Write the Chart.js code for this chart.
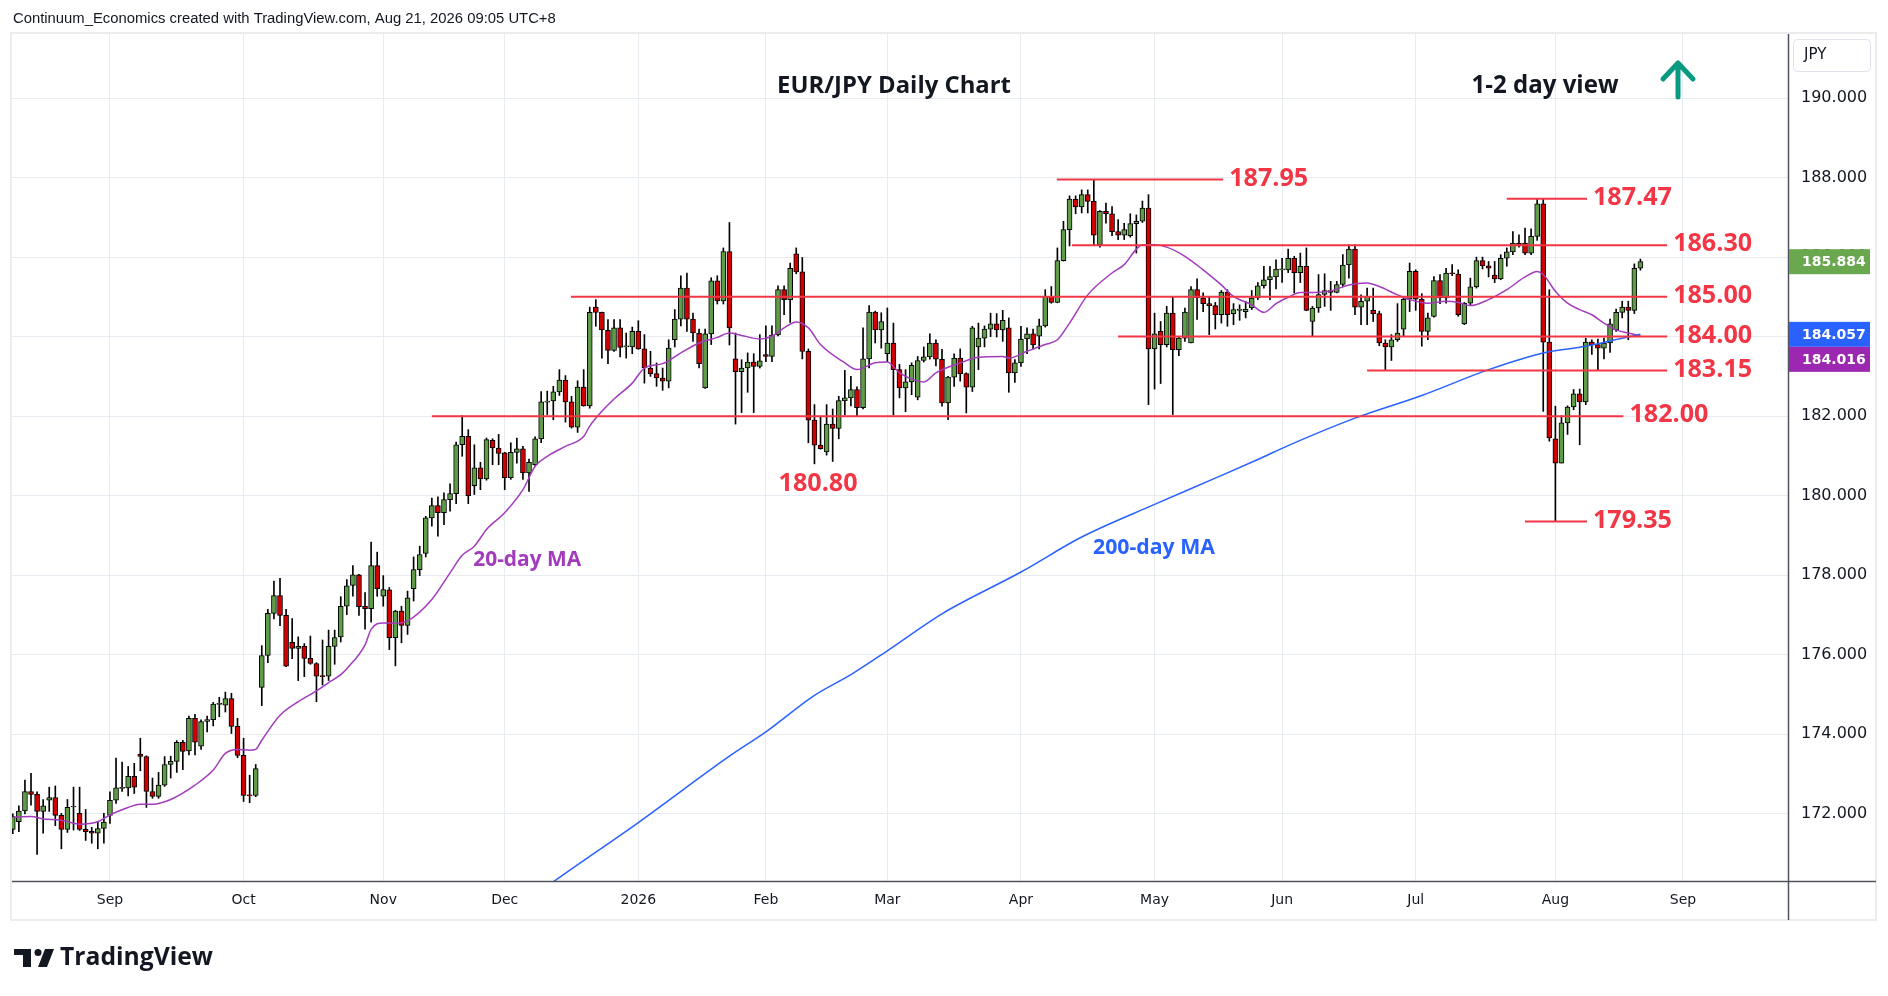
<!DOCTYPE html>
<html>
<head>
<meta charset="utf-8">
<title>EUR/JPY Daily Chart</title>
<script src="https://cdn.jsdelivr.net/npm/chart.js@4.4.1/dist/chart.umd.min.js"></script>
<style>
  html, body { margin: 0; padding: 0; background: #ffffff; }
  #wrap { width: 1888px; height: 996px; }
</style>
</head>
<body>
<div id="wrap"><canvas id="chart" width="1888" height="996"></canvas></div>
<script>
// trading calendar: first bar on the left edge, FX holidays with no bar
const firstDay = '2025-08-08';
const holidays = ['2025-12-25', '2026-01-01'];
const dayCount = 293; // bars that fit the pane, incl. empty space on the right

// month ticks on the time axis
const tickMonths = ['2025-09', '2025-10', '2025-11', '2025-12', '2026-01', '2026-02', '2026-03',
  '2026-04', '2026-05', '2026-06', '2026-07', '2026-08', '2026-09'];
const tickLabels = ['Sep', 'Oct', 'Nov', 'Dec', '2026', 'Feb', 'Mar', 'Apr', 'May', 'Jun', 'Jul', 'Aug', 'Sep'];

// price axis ticks
const priceTicks = [172, 174, 176, 178, 180, 182, 184, 186, 188, 190];

// daily EUR/JPY candles, one value per trading day from 2025-08-08
const opens = [
  171.61,171.80,172.07,172.56,172.49,172.06,172.34,172.41,171.96,171.61,
  172.17,172.01,171.61,171.56,171.51,171.63,171.96,172.34,172.64,172.65,
  172.94,173.50,173.44,172.56,172.44,172.72,173.24,173.32,173.80,173.58,
  174.40,173.70,174.32,174.37,174.75,174.73,174.90,174.20,173.47,172.47,
  172.46,175.18,175.98,177.04,177.49,176.99,176.31,176.16,176.21,175.91,
  175.78,175.47,175.46,176.21,176.45,177.22,177.74,178.01,177.22,177.16,
  178.24,177.47,177.63,176.43,177.10,176.74,177.66,178.14,178.55,179.44,
  179.75,179.57,179.90,180.05,181.28,181.49,180.25,180.70,180.42,181.39,
  181.20,181.08,180.45,181.09,181.18,180.57,180.78,181.43,182.35,182.38,
  182.61,182.91,182.36,181.72,182.73,182.26,184.74,184.61,184.16,183.65,
  184.22,183.74,183.74,184.13,183.69,183.21,183.07,182.96,182.88,183.92,
  184.44,185.22,184.44,184.09,182.71,184.07,185.40,184.90,186.14,183.44,
  183.12,183.21,183.36,183.25,183.55,183.50,184.04,185.18,184.93,186.08,
  185.63,183.63,181.90,181.27,181.10,181.80,181.69,182.38,182.46,182.67,
  182.21,183.44,184.62,184.17,183.57,183.84,183.17,182.71,182.86,182.48,
  183.40,183.49,183.84,183.43,182.33,182.98,183.46,183.07,182.73,183.74,
  183.96,184.19,184.32,184.17,184.22,183.09,183.34,183.94,184.07,184.01,
  184.27,185.01,184.86,185.91,186.69,187.46,187.26,187.57,187.40,186.31,
  187.15,187.09,186.64,186.55,186.54,186.84,186.90,187.23,183.69,184.13,
  183.80,184.59,183.67,183.96,183.84,185.18,184.97,184.83,184.78,184.55,
  185.12,184.58,184.66,184.63,184.72,184.97,185.28,185.43,185.50,185.68,
  185.68,185.97,185.61,185.77,184.38,184.72,185.06,185.16,185.11,185.31,
  185.80,186.20,184.74,184.89,184.66,184.58,183.84,183.74,183.92,184.19,
  184.94,185.64,184.94,184.13,184.51,185.41,184.97,185.59,185.57,184.32,
  184.84,185.25,185.91,185.78,185.55,185.45,185.97,186.13,186.35,186.35,
  186.10,186.52,187.34,183.86,181.43,180.82,181.83,182.23,182.56,182.36,
  183.86,183.80,183.71,183.84,184.17,184.61,184.74,184.66,185.72
];
const highs = [
  172.00,172.20,172.85,173.02,172.55,172.36,172.67,172.70,172.01,172.36,
  172.67,172.67,172.11,171.66,171.80,172.01,172.55,173.40,173.30,173.19,
  173.27,173.90,173.46,172.90,173.04,173.44,173.45,173.84,173.85,174.46,
  174.50,174.36,174.46,174.80,174.93,175.06,175.03,174.40,173.90,172.97,
  173.24,176.23,177.14,177.85,177.92,177.14,176.91,176.45,176.28,176.47,
  175.80,176.37,176.62,176.62,177.46,177.89,178.24,178.02,177.56,178.83,
  178.58,177.99,177.69,177.12,177.22,177.60,178.46,178.73,179.48,179.94,
  179.97,180.07,180.30,181.35,182.01,181.66,181.28,180.84,181.45,181.43,
  181.54,181.09,181.33,181.45,181.24,180.92,181.48,182.62,182.63,182.75,
  183.17,183.02,182.50,182.89,183.17,184.74,184.93,184.62,184.43,184.43,
  184.43,184.09,184.24,184.40,184.05,183.63,183.34,183.21,183.92,184.68,
  185.53,185.60,184.59,184.19,184.19,185.48,185.53,186.23,186.87,184.09,
  183.42,183.59,183.57,184.05,184.27,184.27,185.28,185.28,185.85,186.23,
  185.99,183.69,182.29,181.99,182.29,182.18,182.50,183.15,183.00,182.74,
  184.22,184.78,184.64,184.60,184.72,184.34,183.30,183.17,183.34,183.50,
  183.74,184.07,183.92,183.68,183.00,183.57,183.69,183.09,184.26,184.34,
  184.27,184.59,184.58,184.66,184.47,183.42,184.26,184.22,184.19,184.44,
  185.18,185.26,186.23,186.90,187.54,187.54,187.69,187.69,187.95,187.17,
  187.36,187.27,186.94,186.85,187.09,187.06,187.41,187.57,184.59,184.38,
  184.76,185.01,184.01,184.72,185.26,185.45,185.10,185.01,184.86,185.16,
  185.18,184.83,184.80,184.89,185.16,185.36,185.77,185.77,185.93,185.97,
  186.20,186.02,186.10,186.23,184.76,185.56,185.58,185.39,185.39,186.06,
  186.31,186.31,185.05,185.22,185.22,184.64,183.92,184.05,184.83,185.01,
  185.85,185.68,185.08,184.59,185.51,185.56,185.72,185.81,185.68,184.86,
  185.47,186.00,186.00,185.89,185.89,186.06,186.23,186.64,186.56,186.73,
  186.71,187.46,187.47,185.18,182.25,182.01,182.26,182.67,182.68,183.96,
  183.92,183.94,183.96,184.44,184.69,184.89,184.89,185.83,185.95
];
const lows = [
  171.50,171.55,172.00,172.22,170.98,171.51,172.06,171.70,171.12,171.53,
  171.59,171.58,171.33,171.26,171.12,171.26,171.76,172.26,172.56,172.45,
  172.51,173.08,172.16,172.39,172.39,172.69,172.90,173.04,173.11,173.48,
  173.48,173.62,174.06,174.21,174.44,174.56,174.02,173.41,172.31,172.28,
  172.43,174.72,175.80,176.90,176.73,175.70,175.90,175.35,175.45,175.76,
  174.82,175.24,175.35,175.76,176.32,177.01,177.47,176.99,176.64,176.82,
  177.47,177.22,176.13,175.72,176.30,176.51,177.35,177.99,178.46,179.23,
  178.98,179.27,179.61,179.80,180.99,179.80,180.03,180.15,180.39,180.78,
  180.78,180.15,180.41,180.82,180.41,180.11,180.74,181.33,182.04,181.91,
  182.52,181.85,181.70,181.59,182.25,182.20,184.26,183.46,183.32,183.63,
  183.49,183.46,183.57,183.68,182.83,183.00,182.75,182.65,182.71,183.74,
  184.27,184.13,183.88,183.21,182.70,183.80,184.82,184.82,183.79,181.80,
  182.09,182.60,182.09,183.21,183.37,183.37,184.02,184.55,184.36,185.58,
  183.44,181.33,180.80,181.17,181.02,180.86,181.43,182.03,182.26,181.99,
  182.18,183.21,183.84,183.71,183.37,182.03,182.46,182.11,182.54,182.41,
  183.36,183.43,183.26,182.25,181.91,182.75,182.88,182.08,182.62,183.17,
  183.74,184.00,183.99,183.88,182.60,182.85,183.25,183.57,183.69,183.69,
  184.24,184.84,184.85,185.90,186.28,187.09,187.11,187.11,186.31,186.25,
  186.85,186.54,186.44,186.44,186.50,186.10,186.87,182.29,182.68,182.82,
  183.74,182.04,183.52,183.88,183.84,184.43,184.63,184.05,184.19,184.34,
  184.26,184.30,184.41,184.47,184.68,184.93,185.22,184.93,185.20,185.36,
  185.61,185.10,185.36,184.65,184.01,184.61,184.76,184.66,185.10,185.26,
  185.47,184.55,184.30,184.30,184.38,183.77,183.17,183.40,183.88,184.02,
  184.63,184.66,183.76,183.92,184.49,184.83,184.84,185.53,184.51,184.30,
  184.78,185.22,185.70,185.50,185.36,185.43,185.77,186.06,186.25,186.06,
  186.06,186.42,182.12,181.37,179.35,180.82,181.54,182.16,181.28,182.29,
  183.55,183.17,183.44,183.60,184.13,184.47,183.92,184.58,185.67
];
const closes = [
  171.93,172.07,172.56,172.49,172.06,172.20,172.41,171.96,171.61,172.16,
  172.19,171.61,171.55,171.51,171.63,171.79,172.34,172.65,172.66,172.94,
  172.67,173.44,172.56,172.44,172.72,173.24,173.32,173.80,173.57,174.40,
  173.80,174.32,174.37,174.76,174.77,174.90,174.20,173.47,172.46,172.45,
  173.14,175.98,177.04,177.49,176.99,175.71,176.16,176.21,175.91,175.78,
  175.46,175.45,176.21,176.43,177.22,177.73,178.01,177.21,177.16,178.24,
  177.66,177.64,176.43,177.10,176.74,177.43,178.14,178.52,179.44,179.75,
  179.57,179.90,180.05,181.28,181.49,180.00,180.70,180.42,181.41,181.20,
  181.06,180.45,181.09,181.18,180.57,180.84,181.43,182.36,182.38,182.61,
  182.91,182.36,181.72,182.73,182.26,184.61,184.61,184.17,183.65,184.22,
  183.73,183.74,184.13,183.69,183.21,183.07,182.96,182.88,183.71,184.44,
  185.22,184.44,184.09,183.32,184.07,185.40,184.90,186.14,184.22,183.12,
  183.21,183.36,183.25,183.39,183.50,184.04,185.18,184.93,185.72,185.63,
  183.63,181.90,181.27,181.18,181.80,181.69,182.39,182.46,182.67,182.21,
  183.44,184.62,184.17,184.38,183.84,183.17,182.71,182.86,183.28,183.40,
  183.49,183.84,183.43,182.33,182.98,183.46,183.07,182.73,184.22,183.96,
  184.19,184.32,184.17,184.41,183.09,183.34,183.94,184.07,183.79,184.27,
  185.01,184.86,185.91,186.69,187.46,187.26,187.57,187.40,186.55,187.15,
  187.09,186.64,186.55,186.69,186.84,186.90,187.23,183.69,184.07,183.80,
  184.59,183.67,183.96,184.62,185.18,184.97,184.83,184.78,184.55,185.12,
  184.55,184.68,184.67,184.69,184.97,185.28,185.43,185.51,185.70,185.69,
  185.97,185.61,185.77,184.66,184.72,185.06,185.16,185.11,185.31,185.80,
  186.20,184.74,184.89,185.01,184.58,183.84,183.74,183.92,184.09,184.94,
  185.64,184.94,184.13,184.47,185.41,184.97,185.60,185.58,184.55,184.84,
  185.25,185.91,185.78,185.72,185.45,185.97,186.13,186.35,186.28,186.10,
  186.52,187.34,183.86,181.45,180.82,181.83,182.23,182.56,182.36,183.86,
  183.80,183.71,183.84,184.32,184.61,184.74,184.66,185.72,185.884
];

// moving averages (bar index, value)
const ma20Days = [0,3,5,8,11,14,16,18,21,23,26,30,33,35,37,39,40,41,44,47,
  50,52,54,55,58,59,61,63,65,69,72,74,76,78,81,84,86,88,91,94,
  95,97,99,102,104,107,110,113,116,118,120,123,125,127,129,131,133,137,139,142,
  144,146,149,150,152,156,159,163,164,167,170,172,174,177,181,183,185,186,188,190,
  193,196,199,201,204,206,208,210,212,214,217,220,223,225,228,230,233,236,238,240,
  243,246,249,251,252,254,256,258,260,262,264,266,268];
const ma20Values = [171.91,171.93,171.87,171.84,171.74,171.80,171.97,172.10,172.24,172.24,
  172.36,172.72,173.10,173.52,173.62,173.60,173.62,173.85,174.48,174.82,
  175.09,175.30,175.50,175.65,176.25,176.64,176.80,176.79,176.85,177.39,
  178.06,178.50,178.73,179.15,179.57,180.15,180.74,180.99,181.24,181.49,
  181.75,182.12,182.43,182.83,183.21,183.32,183.59,183.84,183.98,184.09,
  184.03,183.94,184.01,184.22,184.37,184.22,183.80,183.34,183.17,183.34,
  183.36,183.09,182.88,182.86,183.09,183.34,183.48,183.50,183.46,183.63,
  183.80,183.92,184.34,185.05,185.60,185.81,186.20,186.31,186.31,186.25,
  186.02,185.68,185.30,185.01,184.80,184.61,184.83,184.99,185.11,185.11,
  185.15,185.30,185.35,185.26,185.05,184.93,184.84,184.89,184.86,184.78,
  184.93,185.18,185.50,185.64,185.56,185.14,184.84,184.68,184.55,184.34,
  184.17,184.09,184.02];
const ma200Days = [85,89,103,118,124,132,138,144,153,166,176,188,198,205,210,221,232,243,252,259,265,268];
const ma200Values = [169.84,170.29,171.78,173.45,174.06,174.98,175.50,176.10,177.03,178.08,178.96,
  179.78,180.44,180.91,181.26,181.95,182.52,183.17,183.59,183.76,183.96,184.06];

// horizontal levels drawn on the chart
const levelValues = [187.95, 187.47, 186.30, 185.00, 184.00, 183.15, 182.00, 179.35];
const levelLabels = ['187.95', '187.47', '186.30', '185.00', '184.00', '183.15', '182.00', '179.35'];
const levelStarts = [171.9, 246.0, 174.4, 91.9, 182.0, 223.0, 69.0, 249.0];
const levelEnds = [199.3, 259.2, 272.4, 272.4, 272.4, 272.4, 265.2, 259.2];

// last values shown on the price axis
const lastClose = 185.884;
const lastMa200 = 184.057;
const lastMa20 = 184.016;

const GREEN = '#5e9c47';
const RED = '#d00000';
const LEVEL_RED = '#f23645';
const PURPLE = '#a33bbd';
const BLUE = '#2962ff';
const GRID = '#e6ecf2';
const TEXT = '#131722';

function tradingDays() {
  const out = [];
  const d = new Date(firstDay + 'T00:00:00Z');
  while (out.length < dayCount) {
    const iso = d.toISOString().slice(0, 10);
    const wd = d.getUTCDay();
    if (wd !== 0 && wd !== 6 && !holidays.includes(iso)) out.push(iso);
    d.setUTCDate(d.getUTCDate() + 1);
  }
  return out;
}
const days = tradingDays();
const tickPos = tickMonths.map(m => days.findIndex(d => d.startsWith(m)));

function fitFont(ctx, text, weight, family, width) {
  ctx.font = weight + ' 20px ' + family;
  const size = 20 * width / ctx.measureText(text).width;
  return weight + ' ' + size.toFixed(2) + 'px ' + family;
}

function roundRect(ctx, x, y, w, h, r) {
  ctx.beginPath();
  ctx.moveTo(x + r, y);
  ctx.arcTo(x + w, y, x + w, y + h, r);
  ctx.arcTo(x + w, y + h, x, y + h, r);
  ctx.arcTo(x, y + h, x, y, r);
  ctx.arcTo(x, y, x + w, y, r);
  ctx.closePath();
}

// text notes on the chart, placed in data coordinates
const notes = [
  { text: '180.80', day: 132.6, value: 180.80, dy: 20, color: LEVEL_RED, width: 80 },
  { text: '20-day MA', day: 84.7, value: 178.38, dy: 0, color: PURPLE, width: 108 },
  { text: '200-day MA', day: 187.9, value: 178.68, dy: 0, color: BLUE, width: 122 }
];

const decor = {
  id: 'decor',
  beforeDraw(chart) {
    const ctx = chart.ctx;
    ctx.save();
    ctx.fillStyle = '#ffffff';
    ctx.fillRect(0, 0, chart.width, chart.height);
    ctx.restore();
  },
  afterDatasetsDraw(chart) {
    const { ctx } = chart;
    const x = chart.scales.x, y = chart.scales.y;
    ctx.save();
    ctx.textBaseline = 'middle';
    ctx.textAlign = 'left';
    ctx.fillStyle = LEVEL_RED;
    ctx.font = fitFont(ctx, '186.30', '700', '"Open Sans"', 79);
    levelValues.forEach((v, i) => {
      ctx.fillText(levelLabels[i], x.getPixelForValue(levelEnds[i]) + 6, y.getPixelForValue(v) - 1);
    });
    ctx.textAlign = 'center';
    notes.forEach(n => {
      ctx.font = n.text === '180.80' ? fitFont(ctx, '186.30', '700', '"Open Sans"', 79)
        : fitFont(ctx, n.text, '700', '"Open Sans"', n.width);
      ctx.fillStyle = n.color;
      ctx.fillText(n.text, x.getPixelForValue(n.day), y.getPixelForValue(n.value) + n.dy);
    });
    ctx.restore();
  },
  afterDraw(chart) {
    const { ctx, chartArea } = chart;
    const y = chart.scales.y;
    ctx.save();

    // pane frame
    ctx.strokeStyle = '#ececec';
    ctx.lineWidth = 2;
    ctx.strokeRect(11, 33, 1865, 887);

    // axis borders
    ctx.strokeStyle = '#50535e';
    ctx.lineWidth = 1.5;
    ctx.beginPath();
    ctx.moveTo(chartArea.left, chartArea.bottom + 0.5);
    ctx.lineTo(1876, chartArea.bottom + 0.5);
    ctx.moveTo(chartArea.right + 0.5, chartArea.top);
    ctx.lineTo(chartArea.right + 0.5, 920);
    ctx.stroke();

    // currency box
    ctx.fillStyle = '#ffffff';
    ctx.strokeStyle = '#e0e3eb';
    ctx.lineWidth = 1;
    roundRect(ctx, 1793.5, 39.5, 77, 32, 4);
    ctx.fill();
    ctx.stroke();
    ctx.fillStyle = TEXT;
    ctx.font = '15px "DejaVu Sans"';
    ctx.textAlign = 'left';
    ctx.textBaseline = 'middle';
    ctx.fillText('JPY', 1804, 55);

    // last value boxes on the price axis
    const boxes = [
      { v: lastClose, color: '#6aa84f' },
      { v: lastMa200, color: BLUE },
      { v: lastMa20, color: '#9c27b0' }
    ].map(b => ({ ...b, cy: y.getPixelForValue(b.v) }));
    const bh = 25;
    boxes.sort((a, b) => a.cy - b.cy);
    for (let i = 1; i < boxes.length; i++) {
      if (boxes[i].cy - boxes[i - 1].cy < bh) boxes[i].cy = boxes[i - 1].cy + bh;
    }
    ctx.font = 'bold 14px "DejaVu Sans"';
    boxes.forEach(b => {
      ctx.fillStyle = b.color;
      ctx.fillRect(1789, b.cy - bh / 2, 81, bh);
      ctx.fillStyle = '#ffffff';
      ctx.fillText(b.v.toFixed(3), 1802, b.cy + 1);
    });

    // header line
    ctx.fillStyle = TEXT;
    ctx.font = fitFont(ctx, 'Continuum_Economics created with TradingView.com, Aug 21, 2026 09:05 UTC+8', '400', '"Liberation Sans"', 543);
    ctx.fillText('Continuum_Economics created with TradingView.com, Aug 21, 2026 09:05 UTC+8', 13, 19);

    // titles
    ctx.textAlign = 'center';
    ctx.font = fitFont(ctx, 'EUR/JPY Daily Chart', '700', '"Open Sans"', 234);
    ctx.fillText('EUR/JPY Daily Chart', 894, 86);
    ctx.font = fitFont(ctx, '1-2 day view', '700', '"Open Sans"', 147);
    ctx.fillText('1-2 day view', 1545, 86);

    // up arrow
    ctx.strokeStyle = '#089981';
    ctx.lineWidth = 5;
    ctx.lineCap = 'round';
    ctx.lineJoin = 'round';
    ctx.beginPath();
    ctx.moveTo(1678, 97);
    ctx.lineTo(1678, 64);
    ctx.moveTo(1663, 79);
    ctx.lineTo(1678, 63);
    ctx.lineTo(1693, 79);
    ctx.stroke();

    // TradingView mark
    ctx.fillStyle = TEXT;
    ctx.fillRect(14, 949, 17, 6);
    ctx.fillRect(23, 949, 8, 18);
    ctx.beginPath();
    ctx.arc(38, 952.5, 3.5, 0, Math.PI * 2);
    ctx.fill();
    ctx.beginPath();
    ctx.moveTo(45, 949);
    ctx.lineTo(54, 949);
    ctx.lineTo(47, 967);
    ctx.lineTo(38, 967);
    ctx.closePath();
    ctx.fill();
    ctx.textAlign = 'left';
    ctx.font = fitFont(ctx, 'TradingView', '700', '"Open Sans"', 153);
    ctx.fillText('TradingView', 60, 958);

    ctx.restore();
  }
};

const wickData = closes.map((c, i) => ({ x: i, y: [lows[i], highs[i]] }));
const bodyData = closes.map((c, i) => ({ x: i, y: [opens[i], c] }));
const bodyColors = closes.map((c, i) => (c >= opens[i] ? GREEN : RED));

const levelSets = levelValues.map((v, i) => ({
  type: 'line',
  label: levelLabels[i],
  data: [{ x: levelStarts[i], y: v }, { x: levelEnds[i], y: v }],
  borderColor: LEVEL_RED,
  borderWidth: 2,
  pointRadius: 0,
  order: 0
}));

new Chart(document.getElementById('chart'), {
  type: 'bar',
  data: {
    datasets: [
      {
        label: 'range',
        data: wickData,
        backgroundColor: '#000000',
        barThickness: 1,
        grouped: false,
        order: 4
      },
      {
        label: 'EUR/JPY',
        data: bodyData,
        backgroundColor: bodyColors,
        borderColor: '#000000',
        borderWidth: 1,
        borderSkipped: false,
        barThickness: 5,
        minBarLength: 1,
        grouped: false,
        order: 3
      },
      {
        type: 'line',
        label: '20-day MA',
        data: ma20Days.map((d, i) => ({ x: d, y: ma20Values[i] })),
        borderColor: PURPLE,
        borderWidth: 1.5,
        pointRadius: 0,
        cubicInterpolationMode: 'monotone',
        order: 2
      },
      {
        type: 'line',
        label: '200-day MA',
        data: ma200Days.map((d, i) => ({ x: d, y: ma200Values[i] })),
        borderColor: BLUE,
        borderWidth: 1.5,
        pointRadius: 0,
        cubicInterpolationMode: 'monotone',
        order: 1
      },
      ...levelSets
    ]
  },
  options: {
    responsive: false,
    animation: false,
    events: [],
    layout: { padding: { left: 12, top: 34, right: 0, bottom: 0 } },
    plugins: { legend: { display: false }, tooltip: { enabled: false } },
    scales: {
      x: {
        type: 'linear',
        min: -0.13,
        max: 292.3,
        offset: false,
        afterBuildTicks: s => { s.ticks = tickPos.map(v => ({ value: v })); },
        afterFit: s => { s.height = 115; },
        grid: { color: GRID, drawTicks: false, offset: false },
        border: { display: false },
        ticks: {
          autoSkip: false,
          maxRotation: 0,
          padding: 11,
          color: TEXT,
          font: { family: '"DejaVu Sans"', size: 14 },
          callback: (v, i) => tickLabels[i]
        }
      },
      y: {
        position: 'right',
        min: 170.31,
        max: 191.61,
        beginAtZero: false,
        afterBuildTicks: s => { s.ticks = priceTicks.map(v => ({ value: v })); },
        afterFit: s => { s.width = 100; },
        grid: { color: GRID, drawTicks: false },
        border: { display: false },
        ticks: {
          padding: 13,
          color: TEXT,
          font: { family: '"DejaVu Sans"', size: 16 },
          callback: v => v.toFixed(3)
        }
      }
    }
  },
  plugins: [decor]
});
</script>
</body>
</html>
